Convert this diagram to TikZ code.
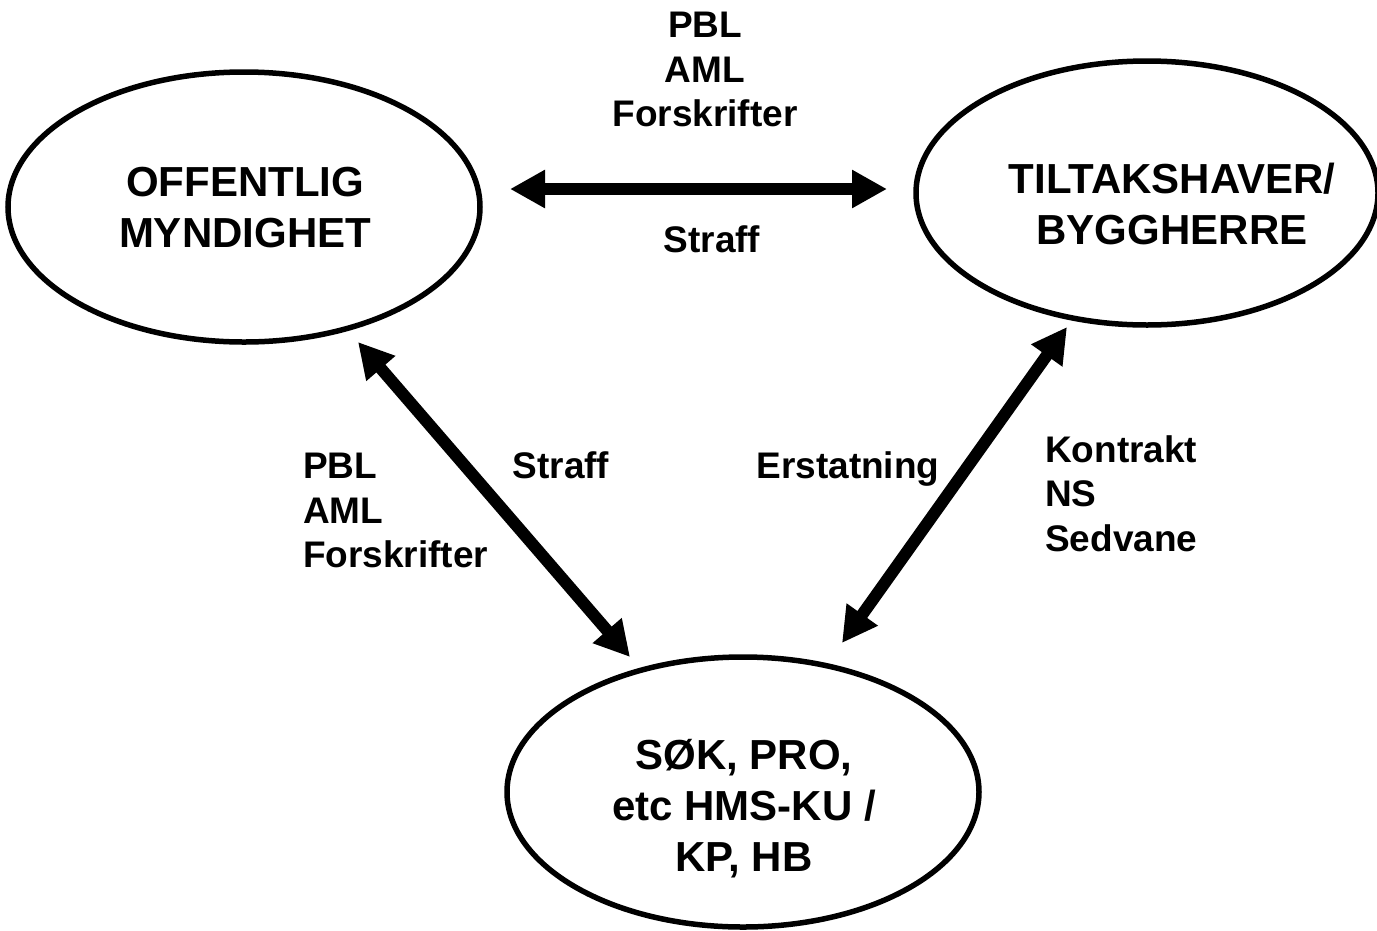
\documentclass[tikz,border=0pt]{standalone}
\usepackage{fontspec}
\usetikzlibrary{shapes.geometric,arrows.meta}
\setmainfont{Liberation Sans}
\begin{document}
\begin{tikzpicture}[x=1pt,y=-1pt,
  party/.style={draw,ellipse,line width=5.5pt,inner sep=0pt},
  partytext/.style={align=center,inner sep=0pt,anchor=north,
    font=\bfseries\fontsize{42}{51}\selectfont},
  law/.style={inner sep=0pt,font=\bfseries\fontsize{37}{44.5}\selectfont},
  relation/.style={line width=12pt,{Triangle[length=35pt,width=36pt]}-{Triangle[length=35pt,width=36pt]}}]
  \useasboundingbox (0,0) rectangle (1377,930);

  % the three parties
  \node[party,minimum width=472pt,minimum height=270pt] (off) at (244,207) {};
  \node[party,minimum width=462pt,minimum height=264pt] (til) at (1147,193) {};
  \node[party,minimum width=472pt,minimum height=270pt] (sok) at (743,792) {};

  \node[partytext] (offtxt) at (245,167) {OFFENTLIG\\MYNDIGHET};
  \node[partytext] (tiltxt) at (1172,163) {TILTAKSHAVER/\\BYGGHERRE};
  \node[partytext] (soktxt) at (744,739) {SØK, PRO,\\etc HMS-KU /\\KP, HB};

  % arrow end points
  \coordinate (offR) at (510,189);
  \coordinate (tilL) at (887,189);
  \coordinate (offB) at (358,342);
  \coordinate (sokL) at (630,657);
  \coordinate (tilB) at (1067,327);
  \coordinate (sokR) at (842,643);

  \draw[relation] (offR) -- (tilL);
  \draw[relation] (offB) -- (sokL);
  \draw[relation] (tilB) -- (sokR);

  % relation labels
  \node[law,align=center,anchor=north] (toplaw) at (705,12) {PBL\\AML\\Forskrifter};
  \node[law,anchor=north] (topstraff) at (712,225) {Straff};
  \node[law,align=left,anchor=north west] (leftlaw) at (303,453) {PBL\\AML\\Forskrifter};
  \node[law,anchor=north] (leftstraff) at (561,451) {Straff};
  \node[law,anchor=north] (erstatning) at (848,451) {Erstatning};
  \node[law,align=left,anchor=north west] (rightlaw) at (1045,435) {Kontrakt\\NS\\Sedvane};
\end{tikzpicture}
\end{document}
